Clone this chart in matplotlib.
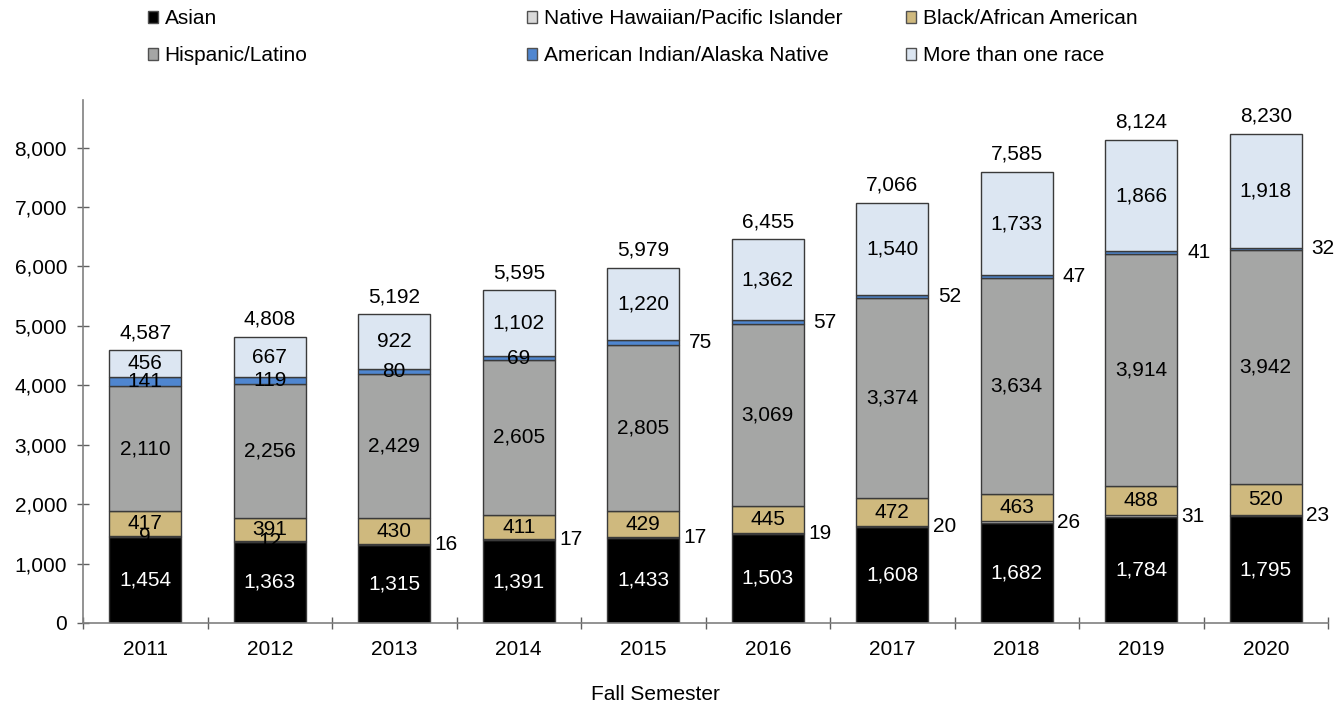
import matplotlib
matplotlib.use("Agg")
import matplotlib.pyplot as plt
from matplotlib.patches import Patch
import numpy as np

plt.rcParams['font.family'] = ['Liberation Sans', 'DejaVu Sans']

years = ["2011", "2012", "2013", "2014", "2015", "2016", "2017", "2018", "2019", "2020"]
asian = [1454, 1363, 1315, 1391, 1433, 1503, 1608, 1682, 1784, 1795]
nhpi = [9, 12, 16, 17, 17, 19, 20, 26, 31, 23]
black = [417, 391, 430, 411, 429, 445, 472, 463, 488, 520]
hispanic = [2110, 2256, 2429, 2605, 2805, 3069, 3374, 3634, 3914, 3942]
aian = [141, 119, 80, 69, 75, 57, 52, 47, 41, 32]
multi = [456, 667, 922, 1102, 1220, 1362, 1540, 1733, 1866, 1918]
totals = [4587, 4808, 5192, 5595, 5979, 6455, 7066, 7585, 8124, 8230]

series = [
    ("Asian", asian, "#000000"),
    ("Native Hawaiian/Pacific Islander", nhpi, "#d9d9d9"),
    ("Black/African American", black, "#cfb97e"),
    ("Hispanic/Latino", hispanic, "#a5a6a5"),
    ("American Indian/Alaska Native", aian, "#4f86d0"),
    ("More than one race", multi, "#dce6f2"),
]

fig = plt.figure(figsize=(13.4, 7.07), dpi=100)
ax = fig.add_axes([83/1340, 1-623/707, (1328-83)/1340, (623-100)/707])

x = np.arange(len(years))
width = 0.58
bottom = np.zeros(len(years))
edge = "#3a3a3a"
fs = 15
containers = {}
for name, vals, col in series:
    vals = np.array(vals, dtype=float)
    bars = ax.bar(x, vals, width, bottom=bottom, color=col, edgecolor=edge, linewidth=1.0, zorder=2)
    containers[name] = (bars, vals, bottom.copy())
    bottom = bottom + vals

def fmt(v):
    return f"{int(v):,}"

# Asian labels (white, centered)
bars, vals, bot = containers["Asian"]
for i in range(len(years)):
    ax.text(x[i], bot[i] + vals[i] / 2, fmt(vals[i]), ha='center', va='center', color='white', fontsize=fs, zorder=4)

# NHPI labels
bars, vals, bot = containers["Native Hawaiian/Pacific Islander"]
for i in range(len(years)):
    yc = bot[i] + vals[i] / 2
    if i < 2:
        ax.text(x[i], yc, fmt(vals[i]), ha='center', va='center', color='black', fontsize=fs, zorder=3)
    else:
        ax.annotate(fmt(vals[i]), (x[i] + width / 2, yc), xytext=(3, 0), textcoords='offset points',
                    ha='left', va='center', fontsize=fs, zorder=4)

# Black, Hispanic, Multi centered
for name in ["Black/African American", "Hispanic/Latino", "More than one race"]:
    bars, vals, bot = containers[name]
    for i in range(len(years)):
        ax.text(x[i], bot[i] + vals[i] / 2, fmt(vals[i]), ha='center', va='center', color='black', fontsize=fs, zorder=4)

# AIAN
bars, vals, bot = containers["American Indian/Alaska Native"]
for i in range(len(years)):
    yc = bot[i] + vals[i] / 2
    if i < 4:
        ax.text(x[i], yc, fmt(vals[i]), ha='center', va='center', color='black', fontsize=fs, zorder=4)
    else:
        ax.annotate(fmt(vals[i]), (x[i] + width / 2, yc), xytext=(7, 0), textcoords='offset points',
                    ha='left', va='center', fontsize=fs, zorder=4)

# Totals
for i in range(len(years)):
    ax.annotate(fmt(totals[i]), (x[i], totals[i]), xytext=(0, 6), textcoords='offset points',
                ha='center', va='bottom', fontsize=fs, zorder=4)

ax.set_xlim(-0.5, len(years) - 0.5)
ax.set_ylim(0, 8800)
ax.set_yticks(np.arange(0, 8001, 1000))
ax.set_yticklabels([fmt(v) for v in np.arange(0, 8001, 1000)], fontsize=fs)
ax.set_xticks(x)
ax.set_xticklabels(years, fontsize=fs)
ax.set_xticks(np.arange(-0.5, len(years)), minor=True)
ax.tick_params(axis='x', which='major', length=0, pad=12)
ax.tick_params(axis='x', which='minor', direction='inout', length=9, color='#606060', width=1)
ax.tick_params(axis='y', direction='inout', length=9, color='#606060', width=1, pad=7)
for s in ['top', 'right']:
    ax.spines[s].set_visible(False)
for s in ['left', 'bottom']:
    ax.spines[s].set_color('#808080')
    ax.spines[s].set_linewidth(1.2)

fig.text(655/1340, 1-695/707, "Fall Semester", ha='center', va='center', fontsize=fs)

cols = [(148, [0, 3]), (527, [1, 4]), (906, [2, 5])]
for xpix, idxs in cols:
    handles = [Patch(facecolor=series[k][2], edgecolor='#505050', linewidth=1.0, label=series[k][0]) for k in idxs]
    leg = fig.legend(handles=handles, loc='upper left', bbox_to_anchor=(xpix/1340, 1-9/707),
                     frameon=False, fontsize=fs, handlelength=0.5, handleheight=0.5,
                     handletextpad=0.3, labelspacing=0.88, borderpad=0, borderaxespad=0)

fig.savefig("out.png", dpi=100)
